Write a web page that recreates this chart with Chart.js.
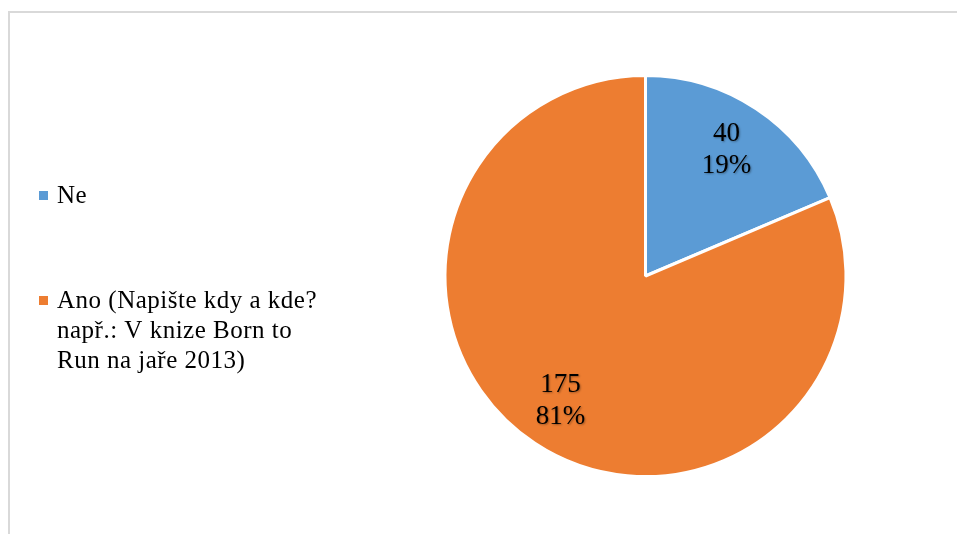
<!DOCTYPE html>
<html lang="cs">
<head>
<meta charset="utf-8">
<title>Ne / Ano</title>
<script src="https://cdn.jsdelivr.net/npm/chart.js@4"></script>
<style>
  html, body { margin: 0; padding: 0; background: #fff; }
  #wrap { position: relative; width: 957px; height: 534px; overflow: hidden; }
  #frame {
    position: absolute; left: 8px; top: 11px; right: -4px; bottom: -4px;
    border-left: 2px solid #d9d9d9; border-top: 2px solid #d9d9d9;
  }
  #graf { position: absolute; left: 0; top: 0; }
</style>
</head>
<body>
<div id="wrap">
  <div id="frame"></div>
  <canvas id="graf" width="957" height="534"></canvas>
</div>
<script>
// víceřádkové popisky kategorií (řádky legendy)
const kategorie = [
  ["Ne"],
  ["Ano (Napište kdy a kde?", "např.: V knize Born to", "Run na jaře 2013)"]
];
const hodnoty = [40, 175];
const barvy = ["#5b9bd5", "#ed7d31"];

const pismo = "'Liberation Serif', 'Times New Roman', serif";

// popisky uvnitř výsečí: hodnota a procenta na dvou řádcích
const popiskyVyseci = {
  id: "popiskyVyseci",
  afterDatasetsDraw(chart) {
    const ctx = chart.ctx;
    const meta = chart.getDatasetMeta(0);
    const soucet = hodnoty.reduce((a, b) => a + b, 0);
    ctx.save();
    ctx.font = "27px " + pismo;
    ctx.fillStyle = "#000";
    ctx.textAlign = "center";
    ctx.textBaseline = "middle";
    ctx.shadowColor = "rgba(0,0,0,0.35)";
    ctx.shadowBlur = 2;
    ctx.shadowOffsetX = 1;
    ctx.shadowOffsetY = 1;
    meta.data.forEach((arc, i) => {
      const { x, y, startAngle, endAngle, outerRadius } = arc.getProps(["x", "y", "startAngle", "endAngle", "outerRadius"], true);
      const stred = (startAngle + endAngle) / 2;
      const r = outerRadius * 0.75;
      const px = x + Math.cos(stred) * r;
      const py = y + Math.sin(stred) * r;
      const proc = Math.round(hodnoty[i] / soucet * 100) + "%";
      ctx.fillText(String(hodnoty[i]), px - 2, py - 17);
      ctx.fillText(proc, px - 2, py + 15);
    });
    ctx.restore();
  }
};

// legenda vlevo
const legendaVlevo = {
  id: "legendaVlevo",
  afterDraw(chart) {
    const ctx = chart.ctx;
    const radek = 30;
    const pozice = [203, 308];
    ctx.save();
    ctx.font = "25px " + pismo;
    ctx.letterSpacing = "0.5px";
    ctx.textBaseline = "alphabetic";
    ctx.textAlign = "left";
    kategorie.forEach((radky, i) => {
      const y0 = pozice[i];
      ctx.fillStyle = barvy[i];
      ctx.fillRect(39, y0 - 12, 9, 9);
      ctx.fillStyle = "#000";
      radky.forEach((r, j) => ctx.fillText(r, 57, y0 + j * radek));
    });
    ctx.restore();
  }
};

new Chart(document.getElementById("graf"), {
  type: "pie",
  data: {
    labels: kategorie,
    datasets: [{
      data: hodnoty,
      backgroundColor: barvy,
      borderColor: "#ffffff",
      borderWidth: 3
    }]
  },
  options: {
    responsive: false,
    animation: false,
    layout: { padding: { left: 443, right: 109, top: 74, bottom: 56 } },
    plugins: {
      legend: { display: false },
      tooltip: { enabled: false }
    }
  },
  plugins: [popiskyVyseci, legendaVlevo]
});
</script>
</body>
</html>
